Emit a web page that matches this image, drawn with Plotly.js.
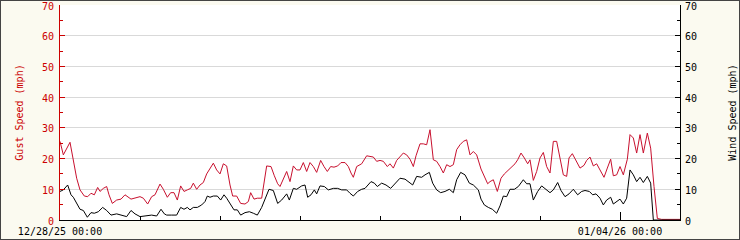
<!DOCTYPE html>
<html>
<head>
<meta charset="utf-8">
<script src="https://cdn.plot.ly/plotly-3.0.1.min.js"></script>
<style>
  html, body { margin: 0; padding: 0; background: #fbfaf0; }
  #chart { width: 738px; height: 238px; border: 1px solid #444; }
</style>
</head>
<body>
<div id="chart"></div>
<script>
// Hours after 12/28/25 00:00 and readings (mph)
const startTime = Date.UTC(2025, 11, 28, 0, 0, 0);

const gustHours = [0,1,3,4,5,6,7.3,8.3,9.3,10.3,11.3,12,13,14,14.7,15.7,17,18.3,19.5,21.3,22.5,24,25,26.3,27.5,28.5,30,
  31,32.2,33.2,34.2,35.2,36.2,37.2,38.2,39.2,40,41,42,43,44,45,46,47,48,49,50,51,51.8,53,54.2,55.5,56.5,57.2,58.2,59.2,60.5,
  62,63.3,64.3,65.3,66,67,68,69,70,71,72,73,74,75,76,77,78.2,79.2,80.2,81.2,82.2,83.3,84.3,85.5,86.5,87.3,88,89,90.5,92,93,
  94,95,96,97,98.2,99,100,101,102,103,104,105,106,106.8,108,109,110,111,112,113,114,115,116,117,118,119,120,121,122,123,124,125,
  126.3,127.3,128.3,129,130,131.2,132.3,133.3,134.5,135.5,136.5,137.3,138.3,139.3,140.3,141,142,143,144,145,146,147,148,149,150,
  151,152,152.7,153.7,154.7,156,157.2,158,159,160,161,162,163.2,164.2,165.2,166,167,168,169,170.2,171,172,173,174,175,176.2,
  177.2,178.2,179.2,180.5,186];
const gustMph = [25.6,21.2,25.3,19.6,13.6,9.8,7.8,7.6,8.7,8.2,10.6,9.3,10.3,10.9,8.2,5.4,6.5,6.8,8.2,6.8,7.1,7.6,7.1,5.2,7.6,8.2,11.7,
  10.0,7.4,8.9,8.9,6.5,11.1,9.3,9.8,10.3,12.0,10.0,11.4,12.2,15.0,16.6,18.5,16.3,15.0,18.3,17.6,11.4,7.8,7.8,5.4,5.2,6.0,8.9,6.8,7.1,7.1,
  17.6,17.4,14.4,11.8,10.9,13.3,15.8,12.5,17.6,16.3,16.3,18.7,15.8,18.7,17.4,15.5,19.4,17.4,15.8,17.4,17.2,17.6,18.7,18.7,17.4,15.3,13.9,17.4,18.3,20.9,20.7,
  20.5,19.1,19.4,19.1,17.4,18.3,16.9,19.4,20.7,21.8,21.2,19.8,17.4,20.9,24.8,24.8,24.5,29.4,19.6,19.1,17.4,15.3,18.0,17.4,18.0,22.9,24.5,25.6,26.1,21.2,22.3,21.2,
  16.6,14.2,11.8,12.5,13.1,9.3,13.6,15.0,16.3,17.4,18.3,19.6,21.8,20.2,18.3,19.6,12.9,15.8,20.2,22.0,17.4,15.3,25.6,25.6,20.7,
  14.7,14.2,20.2,21.6,19.4,16.9,17.8,19.4,20.5,17.6,18.3,16.3,13.9,16.9,19.8,14.4,14.7,17.4,14.7,19.8,27.8,26.7,21.8,27.8,21.8,28.3,
  23.4,10.9,0.5,0.2,0.2];

const windHours = [0,1,2.3,3.3,4,5,6,7,8.2,9.3,10.3,11.5,12.8,14,15.3,17,18.5,20,21.3,22.5,24,25.5,27.5,29,30.3,31.3,32,33.5,35,
  36.2,37.2,38.2,39,40,41.2,42.5,43.5,44.2,45,46,47.2,48.2,49.2,50,51.2,52.2,53.2,54.2,55.5,56.8,58,59.2,60.5,61.8,62.7,64,65.3,
  66.5,68,68.8,70,71,72.5,73.5,74.3,75.3,76.3,77,78,79.3,80.5,82,83.3,84.5,86,87,88,89.3,90.5,91.5,92.5,93.3,94.3,95.2,96.5,97.8,
  99.2,100.5,102,103.5,104.5,105.8,107,108.5,109.5,110.8,111.8,113,114.2,115.5,116.8,118,119,120.2,121.5,122.8,124,125.5,126.3,
  127.3,128.5,129.7,131,132,133,134,135,136.3,137.5,139,140,141,142,143.3,144.5,145.5,147,148,149.3,150.3,151.5,152.7,154,155.3,
  156.5,157.5,158.8,159.8,160.8,162,163,164,165.2,166,167,168,169,170,171,172,173,174,175,176.2,177.2,178,186];
const windMph = [9.3,9.8,11.4,8.2,7.4,5.4,3.5,3.1,0.9,2.4,2.2,2.7,4.1,3.1,1.6,2.0,1.6,1.1,3.1,2.0,1.1,1.3,1.6,1.3,3.5,2.0,1.6,1.6,1.6,
  4.1,3.5,4.1,3.3,4.1,4.1,4.9,6.0,7.8,7.4,7.8,7.8,6.5,8.2,7.1,4.9,3.3,3.3,1.6,2.4,2.7,2.2,1.6,4.1,7.4,10.0,9.6,5.4,
  6.5,8.5,6.5,10.3,10.0,11.1,11.4,7.4,8.2,9.8,8.5,11.1,10.9,9.8,10.3,10.3,9.8,9.8,8.7,7.8,9.3,10.0,10.3,11.4,12.5,12.0,10.9,12.0,11.4,
  10.3,12.0,13.6,13.3,12.5,11.4,14.2,13.9,14.7,15.5,12.0,9.8,8.9,9.3,10.0,8.9,13.1,15.5,14.7,12.0,11.4,9.8,6.8,
  4.9,4.1,3.5,2.2,4.6,7.8,7.6,10.0,10.0,10.9,13.1,11.8,11.8,6.5,9.3,11.1,10.3,8.9,9.8,12.2,9.6,7.6,8.5,10.0,8.2,
  9.3,9.6,9.3,8.2,8.5,7.1,4.9,6.5,7.4,5.2,6.0,6.8,5.2,7.1,16.3,14.7,12.5,13.9,12.2,14.2,12.0,0,0];

const axisTicks = [0,10,20,30,40,50,60,70];

function toTime(h) {
  return new Date(startTime + h * 3600000).toISOString().slice(0, 19).replace('T', ' ');
}

const RED_LINE = '#c8102e';
const RED_TEXT = '#cc0000';
const FONT = 'DejaVu Sans Mono, monospace';
const Y_RANGE = [0, 70];

const traces = [
  { x: gustHours.map(toTime), y: gustMph, type: 'scatter', mode: 'lines', name: 'Gust Speed',
    line: { color: RED_LINE, width: 1 }, yaxis: 'y', hoverinfo: 'skip' },
  { x: windHours.map(toTime), y: windMph, type: 'scatter', mode: 'lines', name: 'Wind Speed',
    line: { color: '#000000', width: 1 }, yaxis: 'y2', hoverinfo: 'skip' }
];

const layout = {
  width: 738, height: 238,
  margin: { l: 59, r: 59, t: 4, b: 19, pad: 0 },
  paper_bgcolor: '#fbfaf0',
  plot_bgcolor: '#ffffff',
  showlegend: false,
  font: { family: FONT, size: 10, color: '#000' },
  xaxis: {
    type: 'date',
    range: [toTime(0), toTime(186)],
    tick0: toTime(0), dtick: 7 * 86400000,
    tickformat: '%m/%d/%y %H:%M',
    ticks: 'inside', ticklen: 8, tickcolor: '#000', tickwidth: 1,
    showline: true, linecolor: '#000', linewidth: 1,
    showgrid: false, zeroline: false,
    ticklabeloverflow: 'allow',
    ticklabelstandoff: 2,
    tickfont: { family: FONT, size: 10, color: '#000' },
    minor: { dtick: 86400000, ticks: 'inside', ticklen: 4, tickcolor: '#000', showgrid: false },
    fixedrange: true
  },
  yaxis: {
    range: Y_RANGE, tickmode: 'array', tickvals: axisTicks,
    ticks: 'inside', ticklen: 5, tickcolor: RED_TEXT,
    showline: true, linecolor: RED_TEXT, linewidth: 1,
    showgrid: true, gridcolor: '#d9d9d9', gridwidth: 1,
    zeroline: false,
    ticklabeloverflow: 'allow',
    ticklabelstandoff: 3, ticklabelshift: 1,
    tickfont: { family: FONT, size: 10, color: RED_TEXT },
    title: { text: 'Gust Speed (mph)', font: { family: FONT, size: 10, color: RED_TEXT }, standoff: 16 },
    minor: { dtick: 5, ticks: 'inside', ticklen: 3, tickcolor: RED_TEXT, showgrid: false },
    fixedrange: true
  },
  yaxis2: {
    overlaying: 'y', side: 'right',
    range: Y_RANGE, tickmode: 'array', tickvals: axisTicks,
    ticks: 'inside', ticklen: 5, tickcolor: '#000',
    showline: true, linecolor: '#000', linewidth: 1,
    showgrid: false, zeroline: false,
    ticklabeloverflow: 'allow',
    ticklabelstandoff: 2, ticklabelshift: 1,
    tickfont: { family: FONT, size: 10, color: '#000' },
    title: { text: 'Wind Speed (mph)', font: { family: FONT, size: 10, color: '#000' }, standoff: 32 },
    minor: { dtick: 5, ticks: 'inside', ticklen: 3, tickcolor: '#000', showgrid: false },
    fixedrange: true
  }
};

Plotly.newPlot('chart', traces, layout, { displayModeBar: false, staticPlot: true });
</script>
</body>
</html>
